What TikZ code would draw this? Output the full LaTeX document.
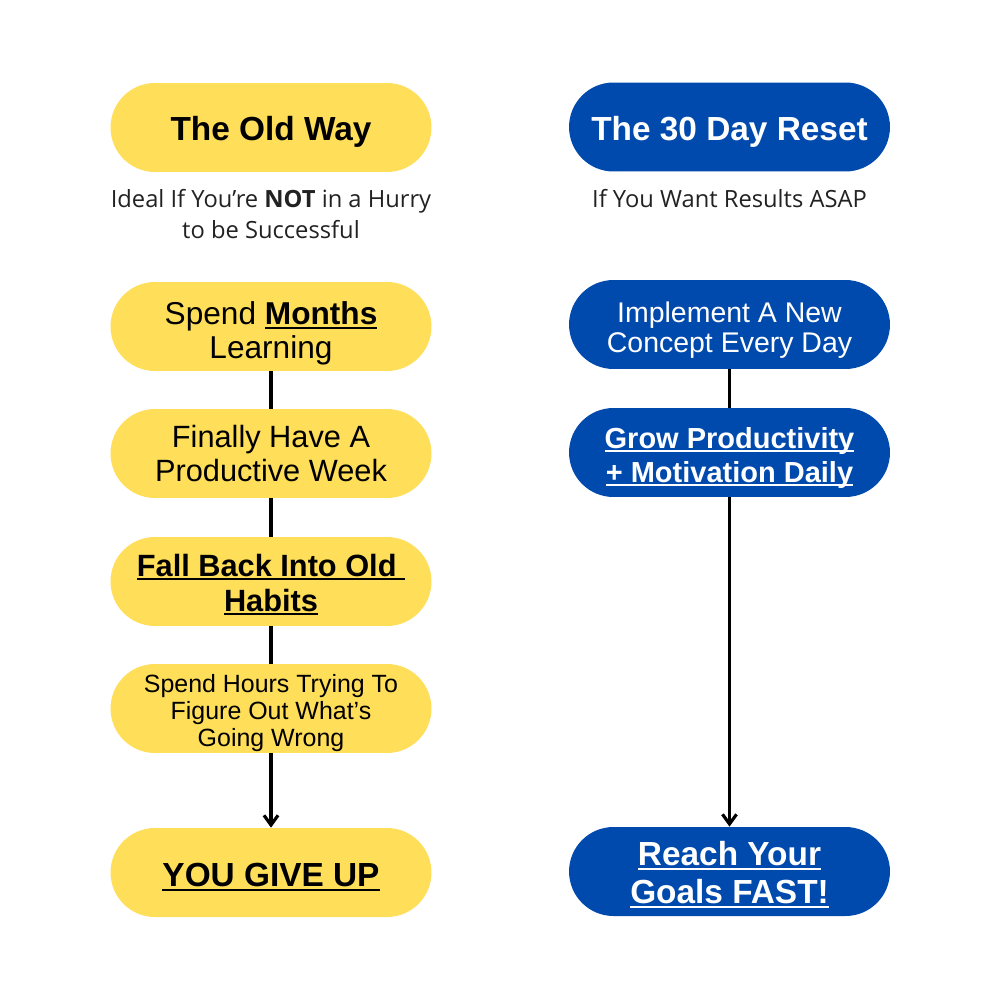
\documentclass[tikz,border=0pt]{standalone}
\usepackage{fontspec}
\setmainfont{Liberation Sans}
\newfontfamily\subfont{Open Sans}
\usetikzlibrary{arrows.meta, positioning}
\definecolor{YL}{RGB}{255,222,89}
\definecolor{BL}{RGB}{0,74,173}
\definecolor{DG}{RGB}{34,34,34}
% underline that follows the font size
\newcommand{\ulin}[1]{\leavevmode\setbox0=\hbox{#1}\rlap{\rule[-0.13em]{\wd0}{0.065em}}\box0}
% strut on the first line, pushes the text down by #1
\newcommand{\dr}[1]{\rule{0pt}{\dimexpr0.74em+#1+#1\relax}}

\begin{document}
\begin{tikzpicture}[
  x=0.02cm, y=-0.02cm,
  pill/.style={rounded corners=0.89cm, minimum width=6.42cm, minimum height=1.78cm, align=center, inner sep=0},
  oldpill/.style={pill, fill=YL, text=black},
  newpill/.style={pill, fill=BL, text=white},
  sub/.style={font=\subfont\fontsize{13.5}{17.6}\selectfont, align=center, text=DG, inner sep=0},
  link/.style={draw=black, line width=1.8pt},
  arr/.style={link, -{Straight Barb[length=5.5pt,width=8pt]}}
]
\useasboundingbox[fill=white] (0,0) rectangle (1000,1000);

% Headers
\node[oldpill, font=\bfseries\fontsize{19}{21}\selectfont] (old) at (271,127.5) {\dr{0.08cm}The Old Way};
\node[newpill, font=\bfseries\fontsize{19}{21}\selectfont] (new) at (729.5,127) {\dr{0.1cm}The 30 Day Reset};

\node[sub, below=0.34cm of old] (oldsub) {Ideal If You’re \textbf{NOT} in a Hurry\\to be Successful};
\node[sub, below=0.34cm of new] (newsub) {If You Want Results ASAP};

% Old way steps
\node[oldpill, font=\fontsize{18}{19.4}\selectfont] (o1) at (271,326.5) {\dr{0.14cm}Spend \ulin{\textbf{Months}}\\Learning};
\node[oldpill, font=\fontsize{17.5}{19}\selectfont] (o2) at (271,453.5) {Finally Have A\\Productive Week};
\node[oldpill, font=\bfseries\fontsize{17.5}{20}\selectfont] (o3) at (271,581.5) {\dr{0.06cm}\ulin{Fall Back Into Old\ }\\\ulin{Habits}};
\node[oldpill, font=\fontsize{14.2}{15.4}\selectfont] (o4) at (271,708.5) {\dr{0.08cm}Spend Hours Trying To\\Figure Out What’s\\Going Wrong};
\node[oldpill, font=\bfseries\fontsize{19}{21}\selectfont] (o5) at (271,872.5) {\dr{0.08cm}\ulin{YOU GIVE UP}};

% Reset steps
\node[newpill, font=\fontsize{16.2}{17}\selectfont] (n1) at (729.5,324.5) {\dr{0.1cm}Implement A New\\Concept Every Day};
\node[newpill, font=\bfseries\fontsize{16.5}{19.4}\selectfont] (n2) at (729.5,452.5) {\dr{0.1cm}\ulin{Grow Productivity}\\\ulin{+ Motivation Daily}};
\node[newpill, font=\bfseries\fontsize{19}{21.6}\selectfont] (n3) at (729.5,871.5) {\dr{0.06cm}\ulin{Reach Your}\\\ulin{Goals FAST!}};

% Connectors
\draw[link] (o1) -- (o2);
\draw[link] (o2) -- (o3);
\draw[link] (o3) -- (o4);
\draw[arr] (o4) -- (o5);
\draw[link] (n1) -- (n2);
\draw[arr] (n2) -- (n3);
\end{tikzpicture}
\end{document}
